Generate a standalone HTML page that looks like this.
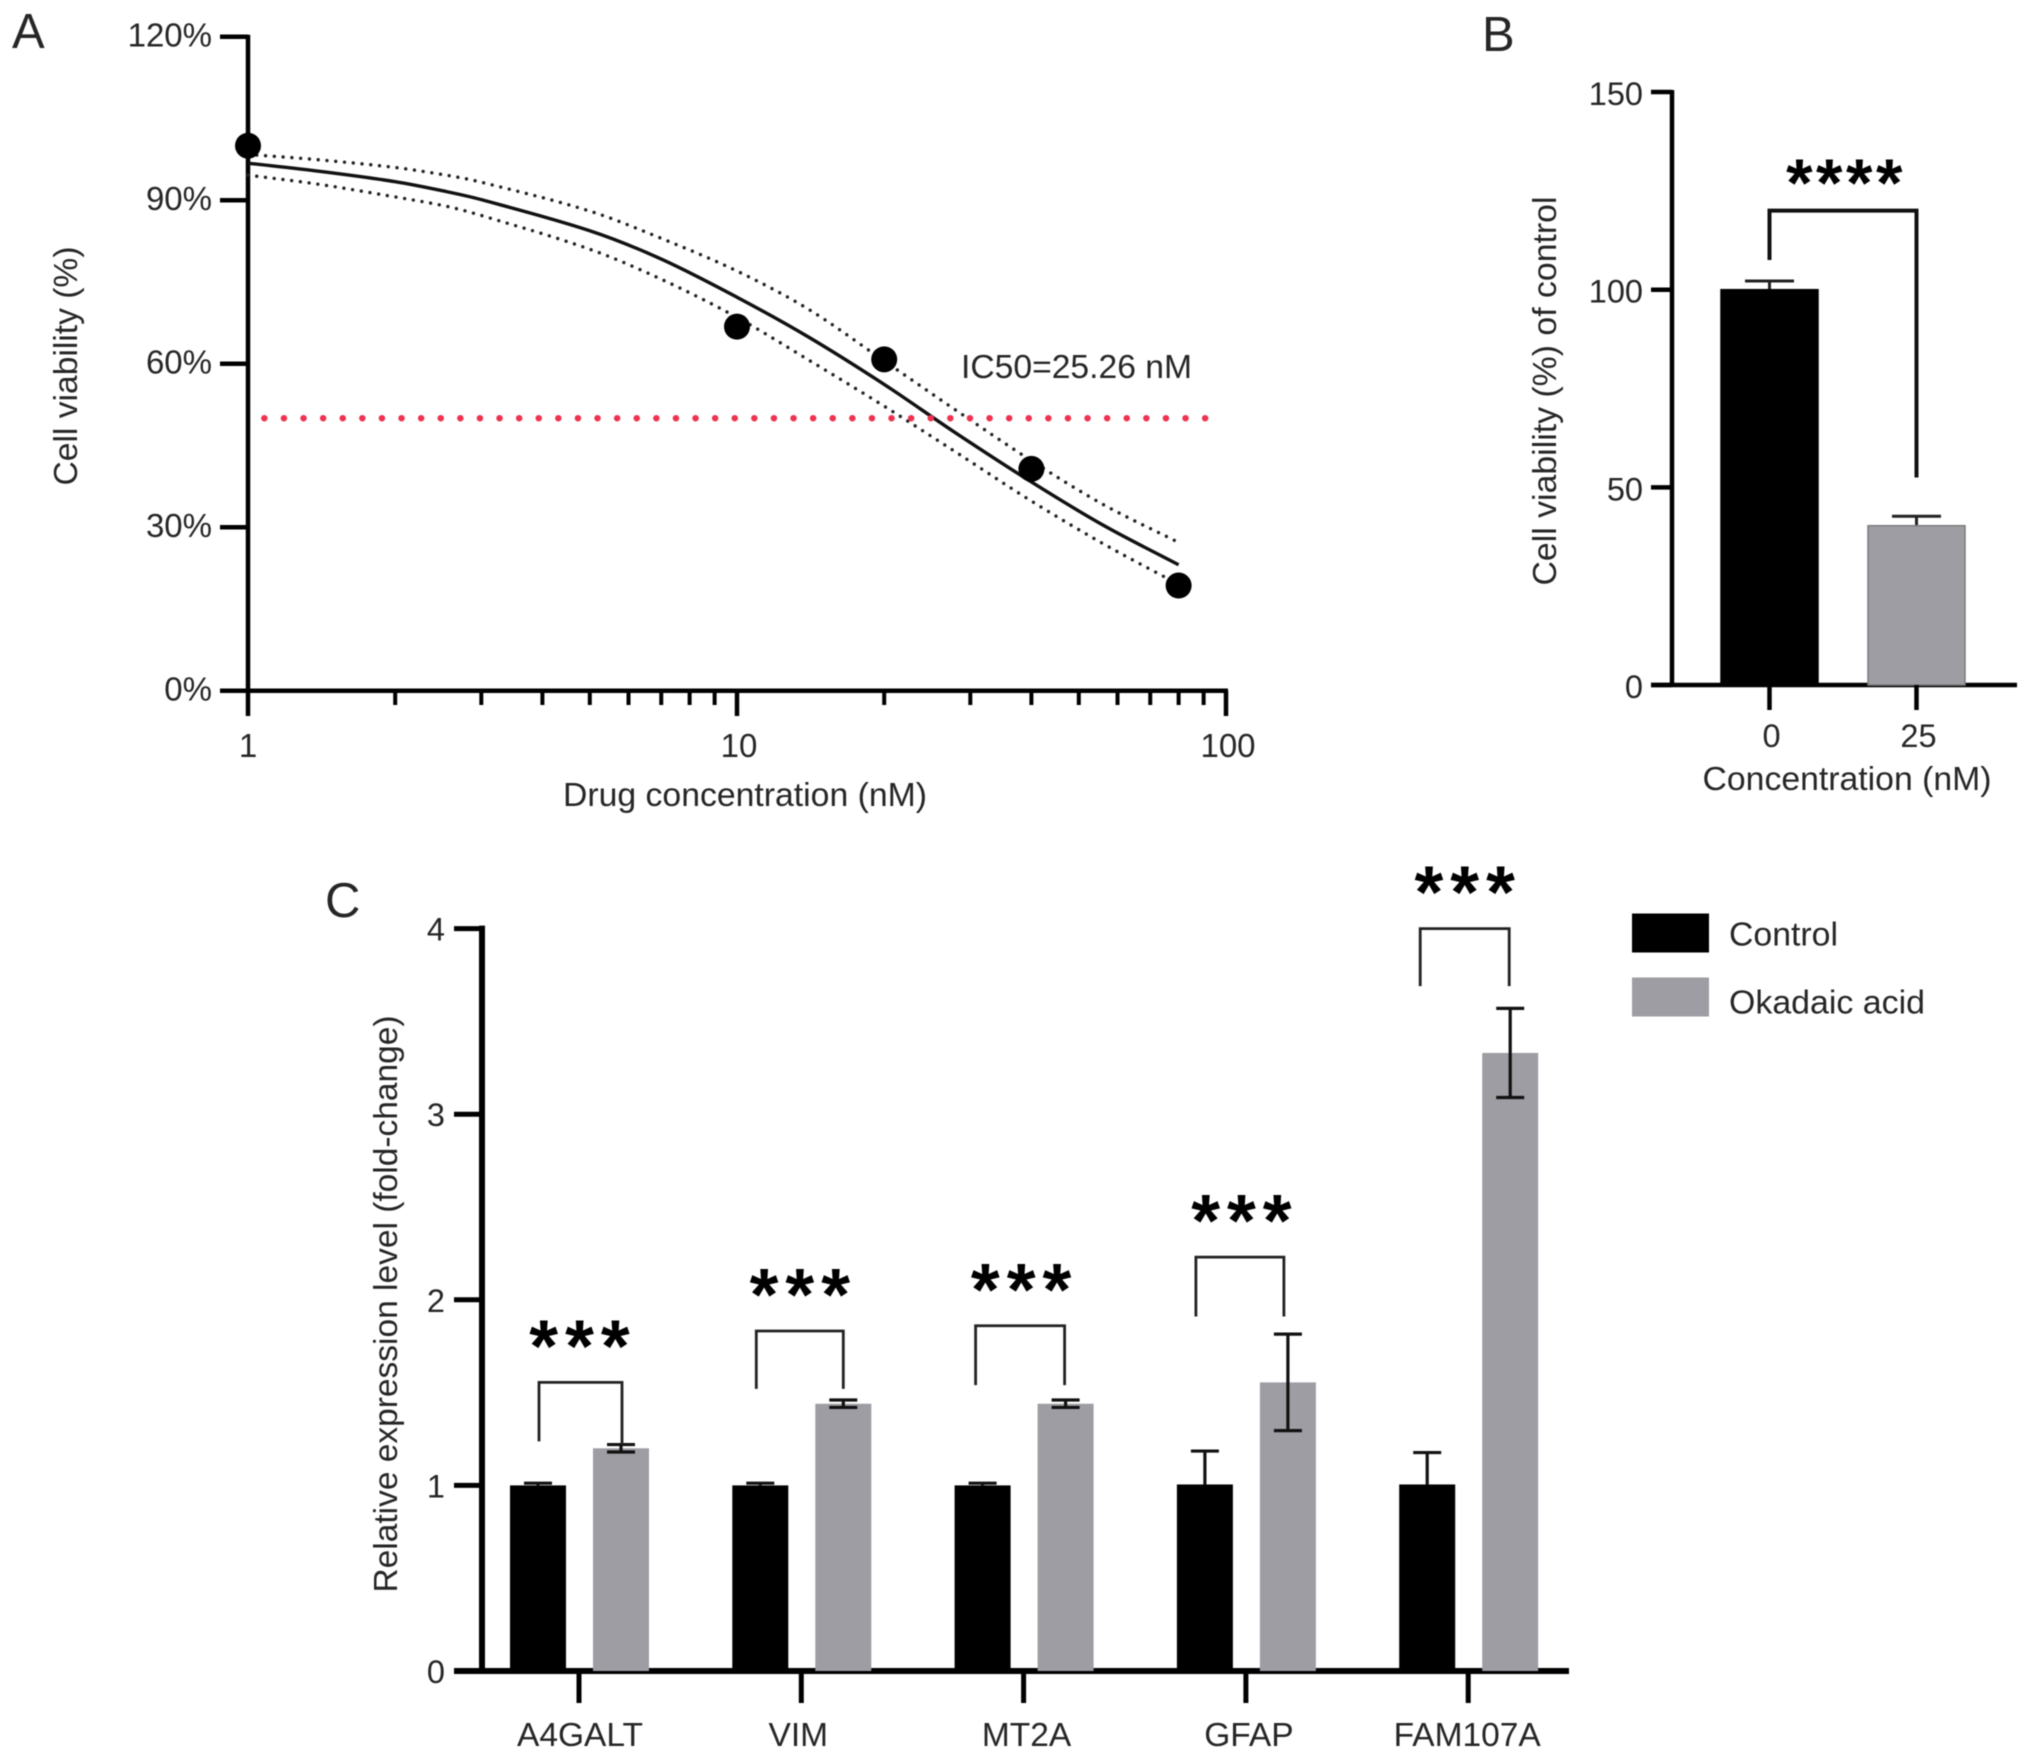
<!DOCTYPE html>
<html lang="en">
<head>
<meta charset="utf-8">
<title>Cell viability and expression charts</title>
<style>
html,body{margin:0;padding:0;background:#fff;}
svg{display:block;filter:blur(0.6px);}
text{font-family:"Liberation Sans",Arial,sans-serif;fill:#262626;}
.panel{font-size:49px;}
.lab{font-size:33px;}
</style>
</head>
<body>
<svg id="chart" xmlns="http://www.w3.org/2000/svg" width="2032" height="1760" viewBox="0 0 2032 1760">
<rect width="2032" height="1760" fill="#fff"/>
<text class="panel" x="12" y="48">A</text>
<text class="panel" x="1482" y="51">B</text>
<text class="panel" x="325" y="917">C</text>

<text class="lab" text-anchor="middle" transform="translate(77,366) rotate(-90)" textLength="239" lengthAdjust="spacingAndGlyphs">Cell viability (%)</text>
<text class="lab" text-anchor="middle" x="745" y="806" textLength="364" lengthAdjust="spacingAndGlyphs">Drug concentration (nM)</text>
<text class="lab" x="961" y="378" textLength="231" lengthAdjust="spacingAndGlyphs">IC50=25.26 nM</text>

<text class="lab" text-anchor="middle" transform="translate(1556,391) rotate(-90)" textLength="389" lengthAdjust="spacingAndGlyphs">Cell viability (%) of control</text>
<text class="lab" text-anchor="middle" x="1847" y="790" textLength="289" lengthAdjust="spacingAndGlyphs">Concentration (nM)</text>

<text class="lab" text-anchor="middle" transform="translate(397,1304) rotate(-90)" textLength="577" lengthAdjust="spacingAndGlyphs">Relative expression level (fold-change)</text>

<rect x="1632" y="913.5" width="77" height="39" fill="#000"/>
<rect x="1632" y="977.5" width="77" height="39" fill="#9e9da3"/>
<text class="lab" x="1729" y="945.5" textLength="109" lengthAdjust="spacingAndGlyphs">Control</text>
<text class="lab" x="1729" y="1013.5" textLength="196" lengthAdjust="spacingAndGlyphs">Okadaic acid</text>
</svg>
<script>
// ---- Panel A data ----
const aYTicks = [0, 30, 60, 90, 120];
const aYTickLabels = ['0%', '30%', '60%', '90%', '120%'];
const aXMajorTicks = [1, 10, 100];
const aXMajorLabels = ['1', '10', '100'];
const aXMinorTicks = [2, 3, 4, 5, 6, 7, 8, 9, 20, 30, 40, 50, 60, 70, 80, 90];
const aDoses = [1, 10, 20, 40, 80];
const aViability = [100, 66.8, 60.8, 40.7, 19.3];
const aFitDoses = [1, 1.4, 2, 2.54, 3, 5, 7, 10, 14, 20, 28, 40, 56, 80];
const aFitMean = [96.8, 95.3, 93.4, 91.6, 90.1, 84.4, 79.2, 72.2, 64.9, 56.2, 47.3, 38.3, 30.4, 23.1];
const aFitUpper = [98.4, 97.4, 96, 94.6, 93.3, 88, 83, 77, 70, 60.5, 51.5, 42.2, 34.2, 27.2];
const aFitLower = [94.6, 92.9, 90.6, 88.9, 87.2, 81, 75.5, 68.5, 60.7, 52.2, 43.8, 34.8, 27, 19.5];
const aThreshold = 50;
const aThresholdRange = [1.08, 92];

// ---- Panel B data ----
const bYTicks = [0, 50, 100, 150];
const bCategories = ['0', '25'];
const bValues = [100, 40.3];
const bErrors = [2.2, 2.4];
const bBracketTop = 120;
const bBracketEnds = [107.5, 52.5];
const bStars = '****';

// ---- Panel C data ----
const cYTicks = [0, 1, 2, 3, 4];
const cCategories = ['A4GALT', 'VIM', 'MT2A', 'GFAP', 'FAM107A'];
const cControl = [1.0, 1.0, 1.0, 1.005, 1.005];
const cControlErr = [0.012, 0.012, 0.012, 0.18, 0.172];
const cOkadaic = [1.2, 1.44, 1.44, 1.555, 3.33];
const cOkadaicErr = [0.02, 0.02, 0.02, 0.26, 0.24];
const cBracketTop = [1.555, 1.832, 1.86, 2.23, 4.0];
const cBracketLeftEnd = [1.237, 1.52, 1.54, 1.91, 3.69];
const cBracketRightEnd = [1.22, 1.52, 1.54, 1.91, 3.69];
const cStarLabels = ['***', '***', '***', '***', '***'];

// ---- Scales ----
const xA = v => 248 + 489 * Math.log10(v);
const yA = v => 690.7 - 5.45 * v;
const yB = v => 685 - 3.953 * v;
const bCenter = i => 1769.5 + 147 * i;
const yC = v => 1671 - 185.6 * v;
const cCenter = i => 579 + 222.3 * i;
const cBlack = i => cCenter(i) - 41;
const cGray = i => cCenter(i) + 42;

const svg = document.getElementById('chart');
const NS = 'http://www.w3.org/2000/svg';
function mk(tag, attrs) {
  const el = document.createElementNS(NS, tag);
  for (const k in attrs) el.setAttribute(k, attrs[k]);
  svg.appendChild(el);
  return el;
}
function ln(x1, y1, x2, y2, w, c) {
  return mk('line', {x1: x1, y1: y1, x2: x2, y2: y2, stroke: c || '#000', 'stroke-width': w});
}
function txt(str, x, y, anchor, size, extra) {
  const el = mk('text', Object.assign({x: x, y: y, 'text-anchor': anchor, 'font-size': size}, extra || {}));
  el.textContent = str;
  return el;
}
// Cubic Hermite path through the read curve samples, tangents from neighbouring samples.
function smoothPath(xs, ys) {
  const n = xs.length;
  const m = xs.map((x, i) => {
    const a = Math.max(i - 1, 0), b = Math.min(i + 1, n - 1);
    return (ys[b] - ys[a]) / (xs[b] - xs[a]);
  });
  let d = 'M' + xs[0] + ' ' + ys[0];
  for (let i = 0; i < n - 1; i++) {
    const h = (xs[i + 1] - xs[i]) / 3;
    d += ' C' + (xs[i] + h) + ' ' + (ys[i] + m[i] * h) + ' ' + (xs[i + 1] - h) + ' ' + (ys[i + 1] - m[i + 1] * h) + ' ' + xs[i + 1] + ' ' + ys[i + 1];
  }
  return d;
}

// ---- Panel A ----
let el = ln(xA(1), yA(120) - 2, xA(1), yA(0) + 2, 4.5);


el = ln(xA(1) - 2, yA(0), xA(100) + 2, yA(0), 4.5);


aYTicks.forEach((v, i) => {
  const t = ln(220, yA(v), xA(1), yA(v), 4.5);
  
  
  const l = txt(aYTickLabels[i], 212, yA(v) + 10, 'end', 33);
  
  
});
aXMajorTicks.forEach((v, i) => {
  const t = ln(xA(v), yA(0), xA(v), 716, 4.5);
  
  
  const l = txt(aXMajorLabels[i], xA(v) + (i ? 2 : 0), 757, 'middle', 33);
  
  
});
aXMinorTicks.forEach(v => {
  const t = ln(xA(v), yA(0), xA(v), 705, 4);
  
  
});
const fitX = aFitDoses.map(xA);
const upperPath = mk('path', {d: smoothPath(fitX, aFitUpper.map(yA)), fill: 'none', stroke: '#222', 'stroke-width': 3.4, 'stroke-linecap': 'round', 'stroke-dasharray': '0 8.8'});


const lowerPath = mk('path', {d: smoothPath(fitX, aFitLower.map(yA)), fill: 'none', stroke: '#222', 'stroke-width': 3.4, 'stroke-linecap': 'round', 'stroke-dasharray': '0 8.8'});


const meanPath = mk('path', {d: smoothPath(fitX, aFitMean.map(yA)), fill: 'none', stroke: '#111', 'stroke-width': 3.4});


const thr = ln(xA(aThresholdRange[0]), yA(aThreshold), xA(aThresholdRange[1]) + 4, yA(aThreshold), 6.5, '#ee3350');
thr.setAttribute('stroke-linecap', 'round');
thr.setAttribute('stroke-dasharray', '0 19.6');


aDoses.forEach((d, i) => {
  const c = mk('circle', {cx: xA(d), cy: yA(aViability[i]), r: 13, fill: '#000'});
  
  
});

// ---- Panel B ----
el = ln(1672, yB(150) - 2, 1672, yB(0) + 2, 4.5);


el = ln(1651, yB(0), 2017, yB(0), 4.5);


bYTicks.forEach(v => {
  const t = ln(1651, yB(v), 1672, yB(v), 4.5);
  
  
  const l = txt(String(v), 1643, yB(v) + 13, 'end', 32.5);
  
  
});
bCategories.forEach((c, i) => {
  const x = bCenter(i);
  const eb = ln(x, yB(bValues[i] + bErrors[i]), x, yB(bValues[i]), 3, '#222');
  
  
  const cap = ln(x - 24.5, yB(bValues[i] + bErrors[i]), x + 24.5, yB(bValues[i] + bErrors[i]), 3, '#222');
  
  
  const bar = mk('rect', {x: x - 48.5, y: yB(bValues[i]), width: 97, height: yB(0) - yB(bValues[i]), fill: i ? '#9e9da3' : '#000', stroke: i ? '#7d7d7d' : '#000', 'stroke-width': 1.5});
  
  
  const t = ln(x, yB(0), x, 710, 4.5);
  
  
  const l = txt(c, x + 2, 747, 'middle', 32.5);
  
  
});
const bBr = mk('path', {d: 'M' + bCenter(0) + ' ' + yB(bBracketEnds[0]) + ' V' + yB(bBracketTop) + ' H' + bCenter(1) + ' V' + yB(bBracketEnds[1]), fill: 'none', stroke: '#111', 'stroke-width': 4});


const bSt = txt(bStars, (bCenter(0) + bCenter(1)) / 2 + 3, 206, 'middle', 68, {'font-weight': 'bold', 'letter-spacing': '3.5', style: 'fill:#000'});



// ---- Panel C ----
el = ln(482, yC(4) - 3, 482, yC(0) + 3, 6);


el = ln(454, yC(0), 1569, yC(0), 6);


cYTicks.forEach(v => {
  const t = ln(454, yC(v), 482, yC(v), 5);
  
  
  const l = txt(String(v), 445, yC(v) + 12, 'end', 32.5);
  
  
});
cCategories.forEach((c, i) => {
  [[cBlack(i), cControl[i], cControlErr[i], '#000', 'control'], [cGray(i), cOkadaic[i], cOkadaicErr[i], '#9e9da3', 'okadaic']].forEach((s, k) => {
    const bar = mk('rect', {x: s[0] - 28, y: yC(s[1]), width: 56, height: yC(0) - yC(s[1]), fill: s[3]});
    
    
    const eb = ln(s[0], yC(s[1] + s[2]), s[0], yC(k ? s[1] - s[2] : s[1]), 3.2, '#111');
    
    
    const capTop = ln(s[0] - 14, yC(s[1] + s[2]), s[0] + 14, yC(s[1] + s[2]), 3.2, '#111');
    
    
    if (k) {
      const capBottom = ln(s[0] - 14, yC(s[1] - s[2]), s[0] + 14, yC(s[1] - s[2]), 3.2, '#111');
      
      
    }
  });
  const t = ln(cCenter(i), yC(0), cCenter(i), 1703, 5);
  
  
  const l = txt(c, cCenter(i) + [1, -3, 3, 3, -1][i], 1746, 'middle', 33.5);
  
  
  const br = mk('path', {d: 'M' + (cBlack(i) + 1 + [0, -5, -8, -10, -8][i]) + ' ' + yC(cBracketLeftEnd[i]) + ' V' + yC(cBracketTop[i]) + ' H' + (cGray(i) + [1, 0, -1, -4, -1][i]) + ' V' + yC(cBracketRightEnd[i]), fill: 'none', stroke: '#222', 'stroke-width': 2.8});
  
  
  const st = txt(cStarLabels[i], cCenter(i) + [4, 2, 1, -1, 0][i], yC(cBracketTop[i]) - 11, 'middle', 74, {'font-weight': 'bold', 'letter-spacing': '7', style: 'fill:#000'});
  
  
});
</script>
</body>
</html>
